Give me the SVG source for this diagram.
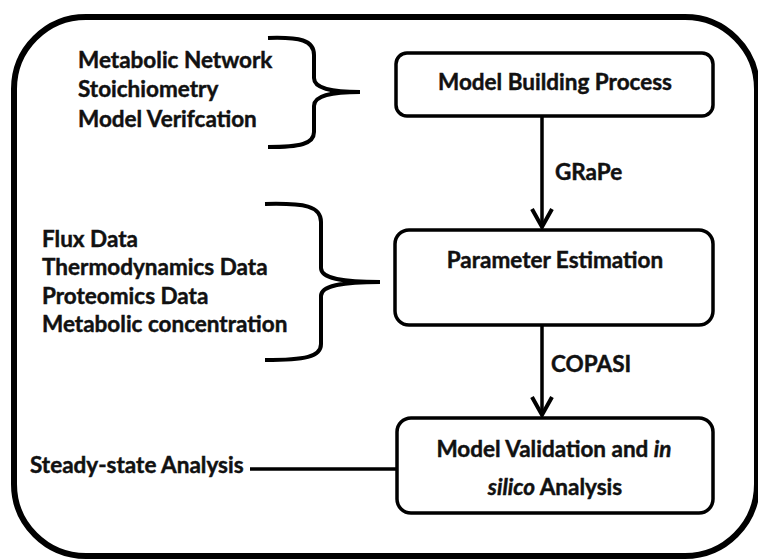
<svg xmlns="http://www.w3.org/2000/svg" width="758" height="559" viewBox="0 0 758 559">
  <style>
    .lbl { font-family: Lato, "Open Sans", "Liberation Sans", sans-serif; font-weight: bold; font-size: 22.5px; fill: #111; stroke: #111; stroke-width: 0.45; }
    .box { fill: #fff; stroke: #000; stroke-width: 3.5; }
    .brace { fill: none; stroke: #000; stroke-width: 4; stroke-linecap: butt; }
    .wire { fill: none; stroke: #000; stroke-width: 3.5; }
  </style>
  <defs>
    <marker id="vhead" markerUnits="userSpaceOnUse" orient="auto" overflow="visible" refX="0" refY="0" markerWidth="30" markerHeight="30">
      <path d="M-18,-10 L0,0 L-18,10" fill="none" stroke="#000" stroke-width="4" stroke-linejoin="miter"/>
    </marker>
  </defs>
  <rect width="758" height="559" fill="#fff"/>

  <!-- outer frame -->
  <rect id="frame" x="14" y="17" width="743" height="539" rx="72" ry="72" fill="none" stroke="#000" stroke-width="6"/>

  <!-- input braces and their lists -->
  <g id="inputs-model">
    <text class="lbl" x="78" y="68">Metabolic Network</text>
    <text class="lbl" x="78" y="97">Stoichiometry</text>
    <text class="lbl" x="78" y="127">Model Verifcation</text>
    <path class="brace" d="M268,38 C300,37 314,40 314,55 L314,78 C314,88 330,92 360,92 C330,92 314,96 314,106 L314,132 C314,144 300,147 268,147"/>
  </g>

  <g id="inputs-data">
    <text class="lbl" x="42" y="247">Flux Data</text>
    <text class="lbl" x="42" y="275">Thermodynamics Data</text>
    <text class="lbl" x="42" y="304">Proteomics Data</text>
    <text class="lbl" x="42" y="332">Metabolic concentration</text>
    <path class="brace" d="M265,204 C305,203 321,206 321,222 L321,268 C321,278 340,282 380,282 C340,282 321,286 321,296 L321,344 C321,357 305,360 265,360"/>
  </g>

  <g id="inputs-analysis">
    <text class="lbl" x="30" y="473" font-size="21.5">Steady-state Analysis</text>
  </g>

  <!-- process boxes -->
  <g id="model-building">
    <rect class="box" x="396" y="53" width="317" height="63" rx="11"/>
    <text class="lbl" x="555" y="90" text-anchor="middle">Model Building Process</text>
  </g>

  <g id="parameter-estimation">
    <rect class="box" x="395" y="230" width="318" height="95" rx="14"/>
    <text class="lbl" x="555" y="268" text-anchor="middle">Parameter Estimation</text>
  </g>

  <g id="model-validation">
    <rect class="box" x="397" y="418" width="316" height="95" rx="14"/>
    <text class="lbl" x="554" y="457" text-anchor="middle">Model Validation and <tspan font-style="italic">in</tspan></text>
    <text class="lbl" x="555" y="495" text-anchor="middle"><tspan font-style="italic">silico</tspan> Analysis</text>
  </g>

  <!-- connectors -->
  <g id="connectors">
    <line class="wire" x1="542" y1="116" x2="542" y2="227" marker-end="url(#vhead)"/>
    <line class="wire" x1="542" y1="325" x2="542" y2="415" marker-end="url(#vhead)"/>
    <line class="wire" x1="250" y1="469" x2="397" y2="469"/>
    <text class="lbl" x="555" y="180">GRaPe</text>
    <text class="lbl" x="551" y="372">COPASI</text>
  </g>
</svg>
